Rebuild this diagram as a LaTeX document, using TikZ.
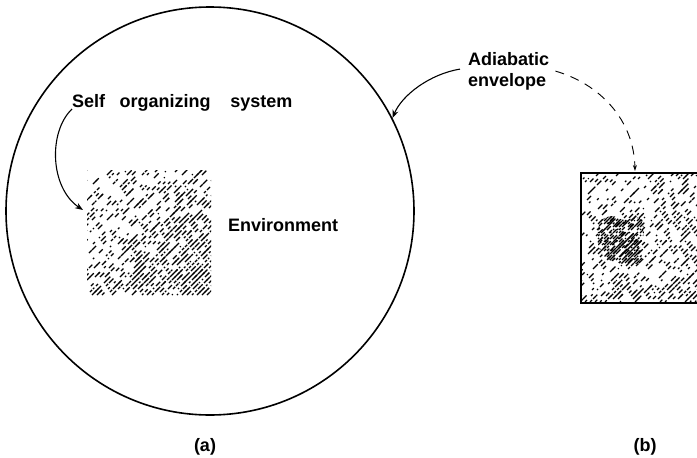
\documentclass[tikz,border=0pt]{standalone}
\usepackage{fontspec}
\setmainfont{Liberation Sans}
\usetikzlibrary{arrows.meta,calc}

% Grainy diagonal hatching inside a rectangle, laid along 45-degree lines:
% #1,#2 = top-left corner, #3,#4 = width, height,
% #5 = base density, #6 = density gain towards the lower right, #7 = line spacing
\newcommand\grainhatch[7]{%
  \begin{scope}
    \clip (#1,#2) rectangle ++(#3,#4);
    \pgfmathtruncatemacro\cmax{#3+#4}%
    \foreach \c in {0,#7,...,\cmax}{%
      \foreach \t in {0,3,...,#4}{%
        \pgfmathsetmacro\px{\c-#4+\t}%
        \pgfmathsetmacro\py{#4-\t}%
        \pgfmathsetmacro\p{#5+#6*(\px/#3+\py/#4)/2}%
        \pgfmathtruncatemacro\hit{rnd<\p?1:0}%
        \ifnum\hit=1
          \pgfmathsetmacro\len{0.8+4*rnd}%
          \draw[line width=1.2pt] (#1+\px,#2+\py) -- ++(\len,-\len);%
        \fi
      }}%
  \end{scope}}

\begin{document}
\begin{tikzpicture}[x=1pt,y=-1pt,
  lbl/.style={font=\fontsize{18}{21}\selectfont\bfseries, inner sep=0pt},
  wall/.style={draw, line width=1.6pt},
  pointer/.style={line width=1.1pt, -{Stealth[length=8pt,width=6pt]}},
  dashpointer/.style={line width=0.9pt, dash pattern=on 9pt off 7pt, -{Stealth[length=6pt,width=4pt]}},
]
\useasboundingbox (0,0) rectangle (697,458);
\pgfmathsetseed{42}

% (a) system inside the adiabatic envelope
\node[wall, circle, minimum size=408, inner sep=0pt] (sysA) at (210,211) {};
\node[inner sep=0pt, minimum width=124, minimum height=125, anchor=north west] (envsq) at (87,170) {};
\grainhatch{87}{170}{124}{125}{0.1}{0.95}{5}

\node[lbl, anchor=west] (sos) at (72,103) {Self\hspace{0.8em}organizing\hspace{1.1em}system};
\node[lbl, anchor=west] (envlabel) at (228,225) {Environment};
\node[lbl, align=left, anchor=north west] (adia) at (468,52) {Adiabatic\\envelope};

\coordinate (sosfoot) at ($(sos.west)+(0,6)$);
\coordinate (sqhit) at ($(envsq.north west)+(-4,40)$);
\draw[pointer] (sosfoot) .. controls (48,132) and (50,188) .. (sqhit);
\draw[pointer] ($(adia.west)+(-8,-2)$) .. controls (430,74) and (402,95) .. (sysA.27);

% (b) the environment alone, with the small system inside it
\node[wall, minimum width=135, minimum height=130, anchor=north west, inner sep=0pt] (rbox) at (580,172) {};
\grainhatch{580}{172}{125}{130}{0.15}{0.55}{5}
\begin{scope}
  \clip plot[smooth cycle] coordinates {(600,222) (612,216) (624,220) (640,218) (644,232) (640,248) (642,262) (624,264) (606,258) (598,244)};
  \grainhatch{596}{214}{50}{52}{0.75}{0.0}{3}
\end{scope}
\coordinate (rboxhit) at ($(rbox.north west)+(55,-1)$);
\draw[dashpointer] ($(adia.east)+(6,0)$) .. controls (600,84) and (634,120) .. (rboxhit);

\node[lbl] (capa) at (205,447) {(a)};
\node[lbl] (capb) at (645,447) {(b)};
\end{tikzpicture}
\end{document}
